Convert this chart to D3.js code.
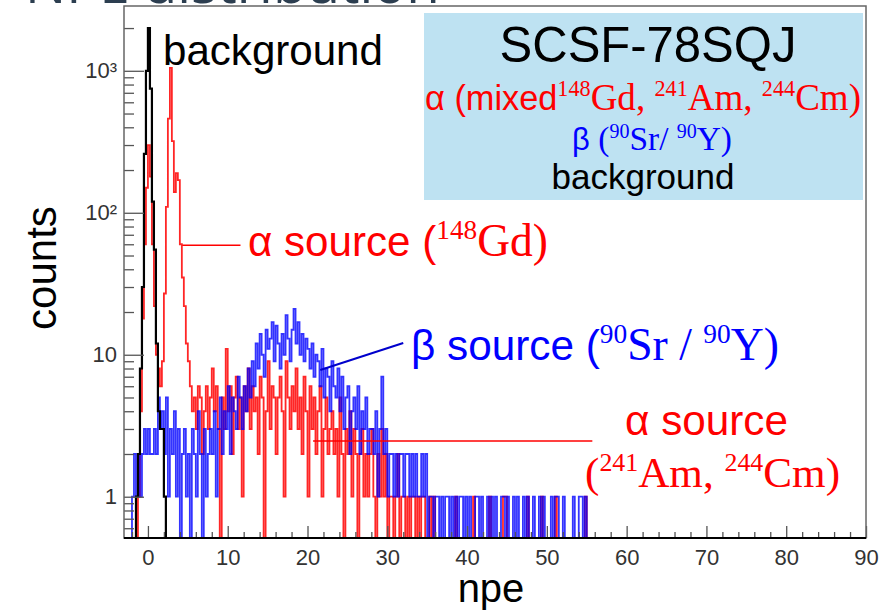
<!DOCTYPE html>
<html>
<head>
<meta charset="utf-8">
<script src="https://cdn.jsdelivr.net/npm/d3@7"></script>
<style>
  body { margin: 0; background: #fff; }
  svg { display: block; }
</style>
</head>
<body>
<div id="graph"></div>
<script>
// ---- data (counts per 0.25 npe bin) ----
var binW = 0.25;

var bgStart = -1.5;
var bgCounts = [1, 2, 8, 30, 260, 1000, 2000, 750, 120, 55, 12, 4, 3, 3, 1];

var redStart = -2;
var redCounts = [
  0, 0, 0, 1, 4, 18, 60, 150, 300, 180, 60, 22, 10, 8, 6, 9, 27, 110, 460, 1050,
  320, 140, 190, 170, 60, 35, 22, 12, 9, 6, 4, 5, 3, 6, 5, 2, 4, 6, 3, 5,
  8, 4, 6, 3, 0, 5, 3, 11, 4, 6, 2, 5, 7, 3, 5, 1, 6, 4, 8, 3,
  6, 4, 5, 2, 7, 5, 0, 4, 9, 3, 6, 5, 2, 5, 7, 4, 1, 9, 5, 3,
  6, 4, 8, 3, 5, 2, 7, 4, 1, 6, 3, 5, 2, 4, 6, 1, 3, 5, 2, 3,
  4, 2, 3, 1, 5, 2, 0, 3, 2, 4, 1, 3, 2, 0, 2, 3, 1, 2, 1, 2,
  3, 1, 0, 2, 1, 3, 1, 2, 0, 1, 1, 0, 1, 2, 0, 1, 1, 0, 1, 0,
  1, 1, 0, 1, 0, 1, 1, 0, 0, 1, 0, 1, 0, 0, 0, 0, 0, 0, 0, 0,
  0, 0, 1, 0, 0, 0, 0, 0, 0, 0, 0, 1, 0, 0, 0, 0, 0, 0, 0, 1,
  0, 0, 0, 0, 0, 0, 1, 1, 0, 0, 0, 0, 0, 0, 0, 0, 0, 0, 1, 0,
  0, 0, 0, 0, 0, 1, 0, 0, 0, 0, 0, 0, 1, 0, 0, 0, 0, 0, 0, 0,
  0, 0, 0, 0, 0, 0, 0, 1, 0, 0, 0, 0
];

var blueStart = -2;
var blueCounts = [
  1, 2, 1, 2, 1, 2, 3, 2, 3, 2, 2, 3, 2, 5, 3, 4, 2, 5, 1, 3,
  2, 4, 1, 3, 0, 2, 3, 1, 2, 0, 3, 2, 1, 4, 2, 0, 3, 1, 2, 3,
  2, 4, 1, 3, 5, 2, 4, 3, 6, 2, 5, 4, 3, 7, 5, 3, 6, 4, 8, 5,
  9, 6, 12, 8, 14, 10, 7, 15, 11, 13, 17, 9, 16, 12, 8, 14, 10, 19, 13, 9,
  15, 21, 12, 17, 10, 14, 9, 13, 11, 8, 12, 7, 10, 9, 6, 11, 5, 8, 7, 4,
  9, 6, 5, 8, 4, 7, 3, 5, 6, 2, 4, 5, 3, 6, 2, 4, 3, 5, 2, 3,
  3, 2, 4, 1, 3, 7, 2, 3, 1, 2, 2, 1, 2, 1, 2, 2, 1, 2, 2, 1,
  2, 1, 2, 1, 1, 2, 1, 2, 0, 1, 1, 0, 1, 1, 0, 1, 0, 1, 1, 0,
  1, 0, 1, 0, 1, 1, 0, 1, 0, 1, 0, 0, 1, 1, 0, 1, 0, 0, 1, 0,
  1, 0, 1, 0, 0, 1, 1, 0, 1, 0, 0, 1, 0, 1, 0, 0, 1, 0, 1, 0,
  0, 1, 0, 0, 1, 0, 1, 0, 0, 0, 1, 0, 1, 1, 0, 0, 1, 0, 0, 0,
  0, 1, 0, 0, 1, 1, 0, 1, 0, 0, 0, 0
];

var xMajor = [0, 10, 20, 30, 40, 50, 60, 70, 80, 90];
var xMinor = [-2, 2, 4, 6, 8, 12, 14, 16, 18, 22, 24, 26, 28, 32, 34, 36, 38, 42, 44, 46, 48,
  52, 54, 56, 58, 62, 64, 66, 68, 72, 74, 76, 78, 82, 84, 86, 88];
var yMajor = [1, 10, 100, 1000];
var yLabels = ["1", "10", "10\u00b2", "10\u00b3"];
var yMinor = [0.6, 0.7, 0.8, 0.9, 2, 3, 4, 5, 6, 7, 8, 9, 20, 30, 40, 50, 60, 70, 80, 90,
  200, 300, 400, 500, 600, 700, 800, 900, 2000];

// pointer lines in data coordinates [npe0, count0, npe1, count1]
var gdPointer = [4.3, 59, 11.6, 59];
var betaPointer = [21.6, 7.8, 32.0, 12.1];
var amPointer = [20.7, 2.47, 55.7, 2.47];

var SANS = "'Liberation Sans', Arial, Helvetica, sans-serif";
var SERIF = "'Liberation Serif', 'Times New Roman', serif";

var width = 887, height = 614;
var frame = { left: 124, right: 866, top: 6, bottom: 538 };

var svg = d3.select("#graph").append("svg")
  .attr("width", width)
  .attr("height", height);

var x = d3.scaleLinear().domain([-3, 90]).range([frame.left, frame.right]);
var y = d3.scaleLog().domain([0.512, 2860]).range([frame.bottom, frame.top]);

// page title, cut off by the top edge
var title = svg.append("text")
  .attr("x", 25).attr("y", 3)
  .attr("fill", "#2c3e50")
  .attr("font-family", "'Open Sans', sans-serif")
  .attr("font-size", 50)
  .text("NPE distribution");
title.attr("font-size", 50 * 415 / title.node().getComputedTextLength());

svg.append("defs").append("clipPath")
  .attr("id", "clip")
  .append("rect")
  .attr("x", frame.left).attr("y", frame.top)
  .attr("width", frame.right - frame.left)
  .attr("height", frame.bottom - frame.top);

function histPoints(start, counts) {
  var pts = [[start, 0]];
  counts.forEach(function (c, i) { pts.push([start + i * binW, c]); });
  var end = start + counts.length * binW;
  pts.push([end, counts[counts.length - 1]]);
  pts.push([end, 0]);
  return pts;
}

function yv(c) { return c > 0 ? y(c) : frame.bottom + 6; }

var line = d3.line()
  .x(function (d) { return x(d[0]); })
  .y(function (d) { return yv(d[1]); })
  .curve(d3.curveStepAfter);

var plot = svg.append("g").attr("clip-path", "url(#clip)");

plot.append("path")
  .attr("d", line(histPoints(redStart, redCounts)))
  .attr("fill", "none").attr("stroke", "#ff0000")
  .attr("stroke-width", 1.8).attr("opacity", 0.85);

plot.append("path")
  .attr("d", line(histPoints(blueStart, blueCounts)))
  .attr("fill", "none").attr("stroke", "#0000ff")
  .attr("stroke-width", 1.8).attr("opacity", 0.8);

plot.append("path")
  .attr("d", line(histPoints(bgStart, bgCounts)))
  .attr("fill", "none").attr("stroke", "#000")
  .attr("stroke-width", 2.2);

// axes, ROOT style ticks pointing inside
function styleAxis(g) {
  g.select(".domain").remove();
  g.selectAll("line").attr("stroke", "#555").attr("stroke-width", 1.3);
  g.selectAll("text").attr("fill", "#333");
  g.attr("font-family", SANS).attr("font-size", 22);
}

svg.append("g")
  .attr("transform", "translate(0," + frame.bottom + ")")
  .call(d3.axisBottom(x).tickValues(xMinor).tickSize(-6).tickFormat(""))
  .call(styleAxis);

svg.append("g")
  .attr("transform", "translate(0," + frame.bottom + ")")
  .call(d3.axisBottom(x).tickValues(xMajor).tickSize(-12).tickPadding(11).tickFormat(d3.format("d")))
  .call(styleAxis);

svg.append("g")
  .attr("transform", "translate(" + frame.left + ",0)")
  .call(d3.axisLeft(y).tickValues(yMinor).tickSize(-10).tickFormat(""))
  .call(styleAxis);

svg.append("g")
  .attr("transform", "translate(" + frame.left + ",0)")
  .call(d3.axisLeft(y).tickValues(yMajor).tickSize(-20).tickPadding(7)
    .tickFormat(function (d, i) { return yLabels[i]; }))
  .call(styleAxis);

// frame
svg.append("rect")
  .attr("x", frame.left).attr("y", frame.top)
  .attr("width", frame.right - frame.left)
  .attr("height", frame.bottom - frame.top)
  .attr("fill", "none").attr("stroke", "#666").attr("stroke-width", 1.5);
svg.append("line")
  .attr("x1", frame.left).attr("x2", frame.right)
  .attr("y1", frame.bottom).attr("y2", frame.bottom)
  .attr("stroke", "#000").attr("stroke-width", 2.2);

// axis titles
svg.append("text")
  .attr("transform", "translate(56,268) rotate(-90)")
  .attr("text-anchor", "middle")
  .attr("font-family", SANS).attr("font-size", 42)
  .text("counts");

svg.append("text")
  .attr("x", 491).attr("y", 602)
  .attr("text-anchor", "middle")
  .attr("font-family", SANS).attr("font-size", 40)
  .text("npe");

// rich text with serif isotopes and superscripts, fitted to a width
function rich(parts, opt) {
  var t = svg.append("text")
    .attr("x", opt.x).attr("y", opt.y)
    .attr("text-anchor", opt.anchor || "start")
    .attr("fill", opt.color)
    .style("white-space", "pre");
  function build(s) {
    t.selectAll("tspan").remove();
    var shifted = 0;
    parts.forEach(function (p) {
      var fs = s * (p.serif ? 1.08 : 1) * (p.sup ? 0.6 : 1);
      var target = p.sup ? -s * 0.4 : 0;
      t.append("tspan")
        .attr("font-family", p.serif ? SERIF : SANS)
        .attr("font-size", fs)
        .attr("dy", target - shifted)
        .text(p.t);
      shifted = target;
    });
  }
  build(40);
  var w = t.node().getComputedTextLength();
  build(40 * opt.width / w);
  return t;
}

// legend box
svg.append("rect")
  .attr("x", 424).attr("y", 13)
  .attr("width", 439).attr("height", 187)
  .attr("fill", "#bee2f2");

rich([{ t: "SCSF-78SQJ" }], { x: 648, y: 62, anchor: "middle", width: 297, color: "#000" });
rich([{ t: "\u03b1 (mixed" }, { t: "148", serif: true, sup: true }, { t: "Gd, ", serif: true },
  { t: "241", serif: true, sup: true }, { t: "Am, ", serif: true },
  { t: "244", serif: true, sup: true }, { t: "Cm)", serif: true }],
  { x: 643, y: 110, anchor: "middle", width: 436, color: "#ff0000" });
rich([{ t: "\u03b2 " }, { t: "(", serif: true }, { t: "90", serif: true, sup: true }, { t: "Sr/ ", serif: true },
  { t: "90", serif: true, sup: true }, { t: "Y)", serif: true }],
  { x: 652, y: 150, anchor: "middle", width: 160, color: "#0000ff" });
rich([{ t: "background" }], { x: 643, y: 189, anchor: "middle", width: 183, color: "#000" });

// labels inside the plot
rich([{ t: "background" }], { x: 163, y: 65, width: 220, color: "#000" });

rich([{ t: "\u03b1 source (" }, { t: "148", serif: true, sup: true }, { t: "Gd)", serif: true }],
  { x: 248, y: 256, width: 300, color: "#ff0000" });

rich([{ t: "\u03b2 source (" }, { t: "90", serif: true, sup: true }, { t: "Sr / ", serif: true },
  { t: "90", serif: true, sup: true }, { t: "Y)", serif: true }],
  { x: 411, y: 360, width: 368, color: "#0000ff" });

rich([{ t: "\u03b1 source" }], { x: 625, y: 435, width: 163, color: "#ff0000" });
rich([{ t: "(", serif: true }, { t: "241", serif: true, sup: true }, { t: "Am, ", serif: true },
  { t: "244", serif: true, sup: true }, { t: "Cm)", serif: true }],
  { x: 585, y: 487, width: 255, color: "#ff0000" });

// pointer lines
[[gdPointer, "#ff0000", 1.6], [betaPointer, "#0000cc", 2], [amPointer, "#ff0000", 1.6]].forEach(function (p) {
  svg.append("line")
    .attr("x1", x(p[0][0])).attr("y1", y(p[0][1]))
    .attr("x2", x(p[0][2])).attr("y2", y(p[0][3]))
    .attr("stroke", p[1]).attr("stroke-width", p[2]);
});
</script>
</body>
</html>
